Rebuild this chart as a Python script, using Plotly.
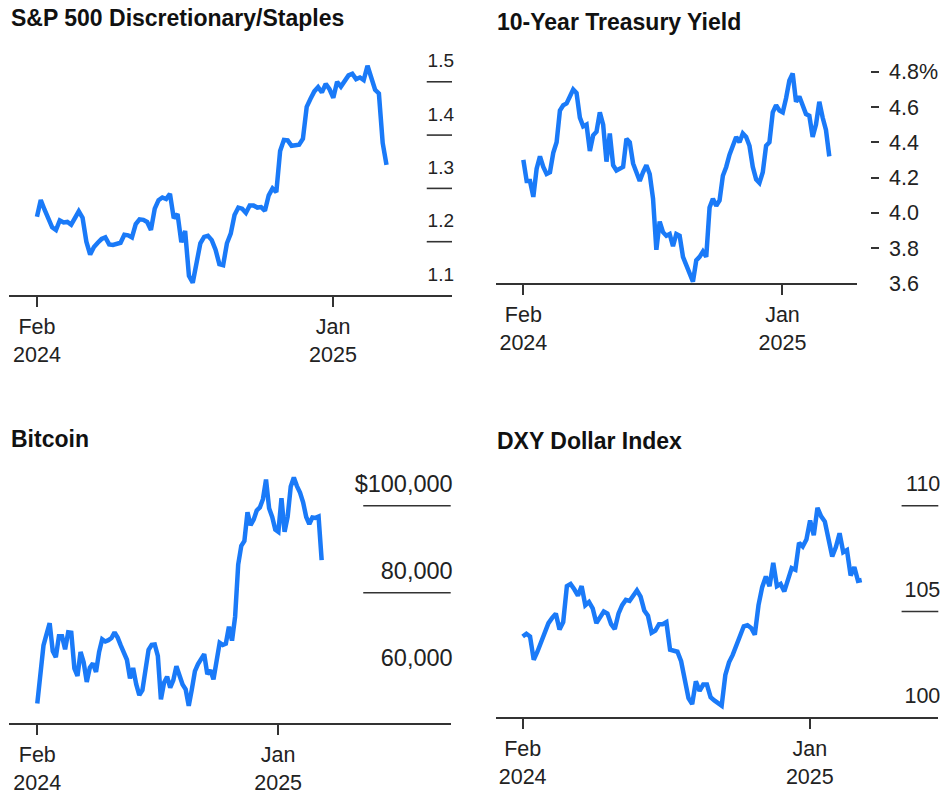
import plotly.graph_objects as go
import pandas as pd

# ---------------- data ----------------
START = "2024-02-26"
END = "2025-02-26"
N_POINTS = 93
dates = pd.date_range(START, END, periods=N_POINTS)

spx_disc_staples = [
    1.247, 1.278, 1.260, 1.241, 1.227, 1.222, 1.240, 1.236, 1.237, 1.232,
    1.245, 1.257, 1.245, 1.200, 1.176, 1.190, 1.198, 1.205, 1.208, 1.195,
    1.194, 1.197, 1.198, 1.213, 1.212, 1.208, 1.233, 1.242, 1.241, 1.237,
    1.222, 1.262, 1.278, 1.283, 1.280, 1.290, 1.244, 1.252, 1.199, 1.220,
    1.136, 1.123, 1.156, 1.197, 1.209, 1.211, 1.203, 1.185, 1.158, 1.156,
    1.197, 1.215, 1.250, 1.264, 1.262, 1.254, 1.268, 1.268, 1.264, 1.265,
    1.258, 1.287, 1.300, 1.293, 1.370, 1.391, 1.390, 1.380, 1.381, 1.382,
    1.393, 1.453, 1.468, 1.482, 1.490, 1.480, 1.496, 1.486, 1.470, 1.500,
    1.491, 1.500, 1.512, 1.515, 1.505, 1.508, 1.503, 1.530, 1.505, 1.485,
    1.478, 1.385, 1.344,
]

treasury_10y = [
    4.30, 4.18, 4.18, 4.09, 4.25, 4.32, 4.26, 4.22, 4.23, 4.34,
    4.40, 4.58, 4.61, 4.62, 4.66, 4.70, 4.68, 4.54, 4.49, 4.50,
    4.35, 4.44, 4.46, 4.57, 4.50, 4.29, 4.45, 4.27, 4.24, 4.25,
    4.26, 4.42, 4.40, 4.28, 4.23, 4.18, 4.23, 4.27, 4.22, 4.08,
    3.79, 3.95, 3.89, 3.87, 3.88, 3.81, 3.88, 3.87, 3.75, 3.70,
    3.66, 3.61, 3.73, 3.75, 3.78, 3.75, 4.03, 4.08, 4.04, 4.07,
    4.21, 4.26, 4.33, 4.38, 4.43, 4.40, 4.45, 4.43, 4.38, 4.26,
    4.19, 4.17, 4.23, 4.38, 4.40, 4.57, 4.61, 4.58, 4.57, 4.65,
    4.75, 4.79, 4.63, 4.66, 4.60, 4.56, 4.55, 4.43, 4.50, 4.63,
    4.54, 4.47, 4.32,
]

bitcoin = [
    54560, 62500, 67900, 70500, 73000, 66600, 65200, 70000, 70000, 67000,
    70900, 70800, 62600, 60900, 66400, 64000, 59500, 62800, 63750, 61800,
    66400, 69300, 68800, 69100, 69600, 70900, 69700, 67900, 66000, 64600,
    60300, 62700, 59000, 56480, 57600, 62700, 66900, 68000, 68100, 65500,
    55500, 59300, 60700, 58200, 59900, 63100, 60600, 58900, 57800, 54000,
    57800, 62000, 63600, 64700, 65900, 61300, 62200, 60100, 64800, 68500,
    68000, 68300, 72200, 69000, 74500, 86500, 90800, 91900, 98500, 95500,
    96800, 98900, 99600, 101500, 106000, 99400, 97400, 94500, 94000, 101700,
    94000, 97500, 104400, 106500, 104500, 103000, 100800, 97400, 95800, 97300,
    97200, 97500, 87500,
]

dxy = [
    103.82, 103.95, 103.82, 102.72, 103.10, 103.51, 104.00, 104.45, 104.70, 104.90,
    104.15, 104.50, 106.20, 106.30, 106.05, 105.75, 106.20, 105.30, 105.45, 105.15,
    104.45, 104.70, 105.00, 104.90, 104.40, 104.17, 104.90, 105.30, 105.55, 105.50,
    105.79, 106.00, 105.70, 105.05, 104.80, 104.00, 104.10, 104.40, 104.40, 104.50,
    103.19, 103.15, 103.10, 102.65, 101.80, 100.90, 100.62, 101.70, 101.25, 101.55,
    101.55, 100.95, 100.80, 100.70, 100.55, 102.00, 102.60, 102.95, 103.40, 103.85,
    104.30, 104.35, 104.22, 103.90, 105.30, 106.15, 106.65, 106.20, 107.30, 106.20,
    106.30, 105.95, 106.45, 107.05, 106.97, 108.25, 108.07, 108.40, 109.30, 108.60,
    109.90, 109.50, 109.25, 108.50, 107.60, 108.05, 108.70, 107.80, 107.90, 106.70,
    107.10, 106.45, 106.49,
]

titles = ["S&P 500 Discretionary/Staples", "10-Year Treasury Yield", "Bitcoin", "DXY Dollar Index"]

x_tick_vals = [START, "2025-01-01"]
x_tick_text = ["Feb<br>2024", "Jan<br>2025"]

spx_ticks = [1.1, 1.2, 1.3, 1.4, 1.5]
spx_tick_text = ["1.1", "1.2", "1.3", "1.4", "1.5"]
spx_grid = [1.2, 1.3, 1.4, 1.5]

ust_ticks = [3.6, 3.8, 4.0, 4.2, 4.4, 4.6, 4.8]
ust_tick_text = ["3.6", "3.8", "4.0", "4.2", "4.4", "4.6", "4.8%"]

btc_ticks = [60000, 80000, 100000]
btc_tick_text = ["60,000", "80,000", "$100,000"]
btc_grid = [80000, 100000]

dxy_ticks = [100, 105, 110]
dxy_tick_text = ["100", "105", "110"]
dxy_grid = [105, 110]

# ---------------- style ----------------
W, H = 944, 797
BLUE = "#1a7af8"
INK = "#222222"
AXIS = "#333333"
FONT = "Liberation Sans, Arial, Helvetica, sans-serif"

fig = go.Figure()
series = [spx_disc_staples, treasury_10y, bitcoin, dxy]
for i, vals in enumerate(series):
    sfx = "" if i == 0 else str(i + 1)
    fig.add_trace(go.Scatter(
        x=dates, y=vals, mode="lines",
        line=dict(color=BLUE, width=4.5, shape="linear"),
        xaxis="x" + sfx, yaxis="y" + sfx,
        hoverinfo="skip", showlegend=False,
    ))

def px_x(p):
    return p / W

def px_y(p):
    return 1 - p / H

x_common = dict(
    type="date", showgrid=False, zeroline=False, automargin=False,
    showline=True, linecolor=AXIS, linewidth=1.6,
    ticks="outside", ticklen=10, tickwidth=1.6, tickcolor=AXIS,
    tickvals=x_tick_vals, ticktext=x_tick_text, ticklabelstandoff=1,
    tickfont=dict(family=FONT, size=21.5, color=INK),
    fixedrange=True,
)
y_common = dict(
    showgrid=False, zeroline=False, showline=False, fixedrange=True, automargin=False,
)

def yfont(size):
    return dict(family=FONT, size=size, color=INK)

layout = dict(
    width=W, height=H,
    margin=dict(l=0, r=0, t=0, b=0, autoexpand=False),
    paper_bgcolor="white", plot_bgcolor="white",
    showlegend=False,
)

# panel 1 : S&P ratio
layout["xaxis"] = dict(x_common, domain=[px_x(9), px_x(452)], anchor="y",
                       range=["2024-01-27 17:00", "2025-05-05 14:00"])
layout["yaxis"] = dict(y_common, domain=[px_y(295), px_y(45)], anchor="x", side="right",
                       range=[1.1, 1.569], tickvals=spx_ticks, ticktext=spx_tick_text,
                       tickfont=yfont(19),
                       ticks="", ticklabelposition="inside", ticklabelshift=-21,
                       ticklabelstandoff=-5)
# panel 2 : 10y yield
layout["xaxis2"] = dict(x_common, domain=[px_x(496), px_x(856.7)], anchor="y2",
                        range=["2024-01-24 07:00", "2025-03-30 19:00"])
layout["yaxis2"] = dict(y_common, domain=[px_y(283.3), px_y(45)], anchor="free",
                        position=px_x(879), side="right",
                        range=[3.6, 4.9517], tickvals=ust_ticks, ticktext=ust_tick_text,
                        tickfont=yfont(21.5),
                        ticks="inside", ticklen=8, tickwidth=1.6, tickcolor=AXIS,
                        ticklabelstandoff=9)
# panel 3 : bitcoin
layout["xaxis3"] = dict(x_common, domain=[px_x(9), px_x(450.7)], anchor="y3",
                        range=["2024-01-20 14:00", "2025-08-11 02:00"])
layout["yaxis3"] = dict(y_common, domain=[px_y(723.3), px_y(455)], anchor="x3", side="right",
                        range=[50000, 111650], tickvals=btc_ticks, ticktext=btc_tick_text,
                        tickfont=yfont(23.5),
                        ticks="", ticklabelposition="inside", ticklabelshift=-22,
                        ticklabelstandoff=-5)
# panel 4 : DXY
layout["xaxis4"] = dict(x_common, domain=[px_x(496), px_x(938.3)], anchor="y4",
                        range=["2024-01-28 05:00", "2025-05-19 17:00"])
layout["yaxis4"] = dict(y_common, domain=[px_y(717.3), px_y(455)], anchor="x4", side="right",
                        range=[100, 112.396], tickvals=dxy_ticks, ticktext=dxy_tick_text,
                        tickfont=yfont(21.5),
                        ticks="", ticklabelposition="inside", ticklabelshift=-22,
                        ticklabelstandoff=-5)

fig.update_layout(**layout)

# short label rules (Bloomberg-style) drawn in data coordinates
for vals, sfx, x0 in [(spx_grid, "", 0.943), (btc_grid, "3", 0.802), (dxy_grid, "4", 0.917)]:
    for v in vals:
        fig.add_shape(type="line", xref=f"x{sfx} domain", yref=f"y{sfx}",
                      x0=x0, x1=1.0, y0=v, y1=v,
                      line=dict(color=AXIS, width=1.6), layer="below")

# titles
title_pos = [(9, 18), (495, 21.7), (9, 439.3), (495, 440.7)]
for t, (tx, ty) in zip(titles, title_pos):
    fig.add_annotation(text=f"<b>{t}</b>", xref="paper", yref="paper",
                       x=px_x(tx), y=px_y(ty), xanchor="left", yanchor="middle",
                       showarrow=False, font=dict(family=FONT, size=23, color="#111111"))

fig.write_html("out.html", config={"displayModeBar": False})
